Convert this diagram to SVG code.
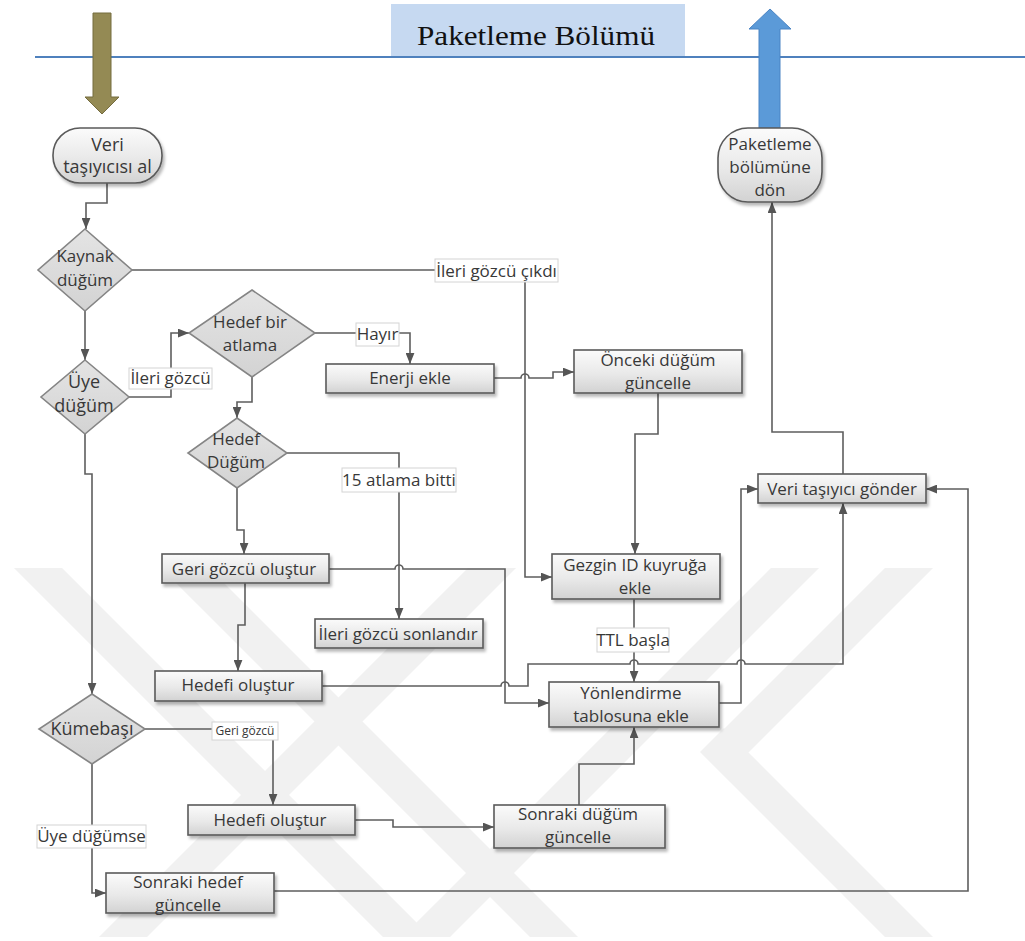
<svg xmlns="http://www.w3.org/2000/svg" width="1025" height="941" viewBox="0 0 1025 941">
  <defs>
    <linearGradient id="gBox" x1="0" y1="0" x2="0" y2="1">
      <stop offset="0" stop-color="#fbfbfb"/>
      <stop offset="0.55" stop-color="#e9e9e9"/>
      <stop offset="1" stop-color="#d2d2d2"/>
    </linearGradient>
    <linearGradient id="gDia" x1="0" y1="0" x2="0" y2="1">
      <stop offset="0" stop-color="#e4e4e4"/>
      <stop offset="1" stop-color="#d3d3d3"/>
    </linearGradient>
    <filter id="shadow" x="-10%" y="-20%" width="130%" height="160%">
      <feDropShadow dx="2" dy="3" stdDeviation="1.4" flood-color="#000" flood-opacity="0.28"/>
    </filter>
    <marker id="arr" viewBox="0 0 10 8" refX="10" refY="4" markerWidth="11" markerHeight="9" markerUnits="userSpaceOnUse" orient="auto">
      <path d="M0,0 L10,4 L0,8 z" fill="#555"/>
    </marker>
    <clipPath id="wmClip">
      <rect x="0" y="568" width="1025" height="369"/>
    </clipPath>
    <style>
      .box { fill: url(#gBox); stroke: #5a5a5a; stroke-width: 1.6; filter: url(#shadow); }
      .term { fill: url(#gBox); stroke: #5a5a5a; stroke-width: 1.6; filter: url(#shadow); }
      .dia { fill: url(#gDia); stroke: #858585; stroke-width: 1.6; }
      .t { font-family: "Open Sans", "Noto Sans", sans-serif; font-size: 17px; fill: #383838; text-anchor: middle; }
      .tt { font-size: 18px; }
      .lbl { fill: #ffffff; stroke: #d4d4d4; stroke-width: 1; }
      .c { fill: none; stroke: #5e5e5e; stroke-width: 1.6; }
      .ca { fill: none; stroke: #5e5e5e; stroke-width: 1.6; marker-end: url(#arr); }
      .wm { stroke: #f1f1f1; stroke-width: 34; fill: none; stroke-linecap: butt; }
    </style>
  </defs>

  <rect width="1025" height="941" fill="#ffffff"/>

  <!-- faint background emblem -->
  <g id="watermark" clip-path="url(#wmClip)">
    <line class="wm" x1="20" y1="550" x2="420" y2="950"/>
    <line class="wm" x1="167" y1="550" x2="567" y2="950"/>
    <line class="wm" x1="510" y1="550" x2="110" y2="950"/>
    <line class="wm" x1="813" y1="550" x2="413" y2="950"/>
    <line class="wm" x1="927" y1="550" x2="722" y2="755"/>
    <line class="wm" x1="712" y1="740" x2="922" y2="950"/>
  </g>

  <!-- section header -->
  <g id="header">
    <rect x="391" y="4" width="294" height="53" fill="#c6d9f1"/>
    <line x1="35" y1="57" x2="1025" y2="57" stroke="#4f81bd" stroke-width="2"/>
    <text x="536" y="45" font-family="Liberation Serif, serif" font-size="28" fill="#111" text-anchor="middle" textLength="238" lengthAdjust="spacingAndGlyphs">Paketleme Bölümü</text>
  </g>

  <g id="arrow-in">
    <polygon points="93,13 111,13 111,97 119,97 102,114 85,97 93,97" fill="#948a54" stroke="#756c3f" stroke-width="1"/>
  </g>
  <g id="arrow-out">
    <polygon points="759,128 780,128 780,29 791,29 770,9 749,29 759,29" fill="#5b9ad8" stroke="#4a84c4" stroke-width="1"/>
  </g>

  <!-- connectors -->
  <g id="connectors">
    <path class="ca" d="M107,183 V203 H86 V229"/>
    <path class="ca" d="M85,311 V360"/>
    <path class="ca" d="M129,397 H171 V333 H189"/>
    <path class="ca" d="M315,333 H410 V364"/>
    <path class="ca" d="M494,378 H521 a4,4 0 0 1 8,0 H553 V372 H574"/>
    <path class="ca" d="M132,270 H525 V577 H552"/>
    <path class="ca" d="M658,393 V434 H635 V554"/>
    <path class="ca" d="M252,377 V402 H237 V418"/>
    <path class="ca" d="M287,453 H399 V619"/>
    <path class="ca" d="M237,488 V530 H244 V554"/>
    <path class="ca" d="M329,569 H395 a4,4 0 0 1 8,0 H505 V703 H549"/>
    <path class="ca" d="M245,583 V625 H238 V671"/>
    <path class="ca" d="M322,686 H501 a4,4 0 0 1 8,0 H528 V664 H630 a4,4 0 0 1 8,0 H737 a4,4 0 0 1 8,0 H843 V503"/>
    <path class="ca" d="M634,599 V682"/>
    <path class="ca" d="M719,703 H741 V489 H758"/>
    <path class="ca" d="M85,434 V474 H92 V694"/>
    <path class="ca" d="M145,729 H273 V805"/>
    <path class="ca" d="M355,820 H393 V827 H494"/>
    <path class="ca" d="M579,805 V764 H634 V727"/>
    <path class="ca" d="M92,764 V893 H106"/>
    <path class="ca" d="M274,891 H968 V489 H926"/>
    <path class="ca" d="M843,474 V432 H772 V202"/>

    <!-- connector labels -->
    <rect class="lbl" x="129" y="368" width="83" height="21"/>
    <text class="t" x="170.5" y="384">İleri gözcü</text>
    <rect class="lbl" x="435" y="259" width="123" height="23"/>
    <text class="t" x="496.5" y="277">İleri gözcü çıkdı</text>
    <rect class="lbl" x="356" y="323" width="43" height="23"/>
    <text class="t" x="377.5" y="340">Hayır</text>
    <rect class="lbl" x="342" y="468" width="114" height="24"/>
    <text class="t" x="399" y="486">15 atlama bitti</text>
    <rect class="lbl" x="597" y="628" width="72" height="24"/>
    <text class="t" x="633" y="646">TTL başla</text>
    <rect class="lbl" x="212" y="722" width="66" height="18"/>
    <text class="t" x="245" y="735" style="font-size:12px">Geri gözcü</text>
    <rect class="lbl" x="37" y="825" width="109" height="23"/>
    <text class="t" x="91.5" y="842">Üye düğümse</text>
  </g>

  <!-- nodes -->
  <g id="n-veri-al">
    <rect class="term" x="53" y="128" width="109" height="55" rx="27" ry="27"/>
    <text class="t tt" x="107.5" y="151">Veri</text>
    <text class="t tt" x="107.5" y="173">taşıyıcısı al</text>
  </g>
  <g id="n-paketleme-don">
    <rect class="term" x="718" y="128" width="104" height="74" rx="30" ry="30"/>
    <text class="t" x="770" y="150">Paketleme</text>
    <text class="t" x="770" y="173">bölümüne</text>
    <text class="t" x="770" y="196">dön</text>
  </g>
  <g id="n-kaynak">
    <polygon class="dia" points="85,229 132,270 85,311 38,270"/>
    <text class="t" x="85" y="262">Kaynak</text>
    <text class="t" x="85" y="286">düğüm</text>
  </g>
  <g id="n-uye">
    <polygon class="dia" points="85,360 129,397 85,434 41,397"/>
    <text class="t tt" x="84" y="388">Üye</text>
    <text class="t tt" x="84" y="412">düğüm</text>
  </g>
  <g id="n-hedef-bir">
    <polygon class="dia" points="252,290 315,333 252,377 189,333"/>
    <text class="t" x="250" y="328">Hedef bir</text>
    <text class="t" x="250" y="351">atlama</text>
  </g>
  <g id="n-hedef-dugum">
    <polygon class="dia" points="237,418 287,453 237,488 188,453"/>
    <text class="t" x="236" y="445">Hedef</text>
    <text class="t" x="236" y="468">Düğüm</text>
  </g>
  <g id="n-kumebasi">
    <polygon class="dia" points="92,694 145,729 92,764 39,729"/>
    <text class="t tt" x="92" y="735">Kümebaşı</text>
  </g>
  <g id="n-enerji">
    <rect class="box" x="326" y="364" width="168" height="29"/>
    <text class="t" x="410" y="384">Enerji ekle</text>
  </g>
  <g id="n-onceki">
    <rect class="box" x="574" y="350" width="168" height="43"/>
    <text class="t" x="658" y="366">Önceki düğüm</text>
    <text class="t" x="658" y="389">güncelle</text>
  </g>
  <g id="n-veri-gonder">
    <rect class="box" x="758" y="474" width="168" height="29"/>
    <text class="t" x="842" y="495">Veri taşıyıcı gönder</text>
  </g>
  <g id="n-gezgin">
    <rect class="box" x="552" y="554" width="168" height="45"/>
    <text class="t" x="635" y="571">Gezgin ID kuyruğa</text>
    <text class="t" x="635" y="594">ekle</text>
  </g>
  <g id="n-yonlendirme">
    <rect class="box" x="549" y="682" width="170" height="45"/>
    <text class="t" x="631" y="699">Yönlendirme</text>
    <text class="t" x="631" y="722">tablosuna ekle</text>
  </g>
  <g id="n-geri-gozcu">
    <rect class="box" x="162" y="554" width="167" height="29"/>
    <text class="t" x="244" y="575">Geri gözcü oluştur</text>
  </g>
  <g id="n-ileri-sonlandir">
    <rect class="box" x="315" y="619" width="168" height="29"/>
    <text class="t" x="398" y="640">İleri gözcü sonlandır</text>
  </g>
  <g id="n-hedefi-1">
    <rect class="box" x="155" y="671" width="167" height="30"/>
    <text class="t" x="238" y="691">Hedefi oluştur</text>
  </g>
  <g id="n-hedefi-2">
    <rect class="box" x="188" y="805" width="167" height="30"/>
    <text class="t" x="270" y="826">Hedefi oluştur</text>
  </g>
  <g id="n-sonraki-dugum">
    <rect class="box" x="494" y="805" width="171" height="43"/>
    <text class="t" x="578" y="820">Sonraki düğüm</text>
    <text class="t" x="578" y="843">güncelle</text>
  </g>
  <g id="n-sonraki-hedef">
    <rect class="box" x="106" y="873" width="168" height="40"/>
    <text class="t" x="188" y="888">Sonraki hedef</text>
    <text class="t" x="188" y="911">güncelle</text>
  </g>
</svg>
